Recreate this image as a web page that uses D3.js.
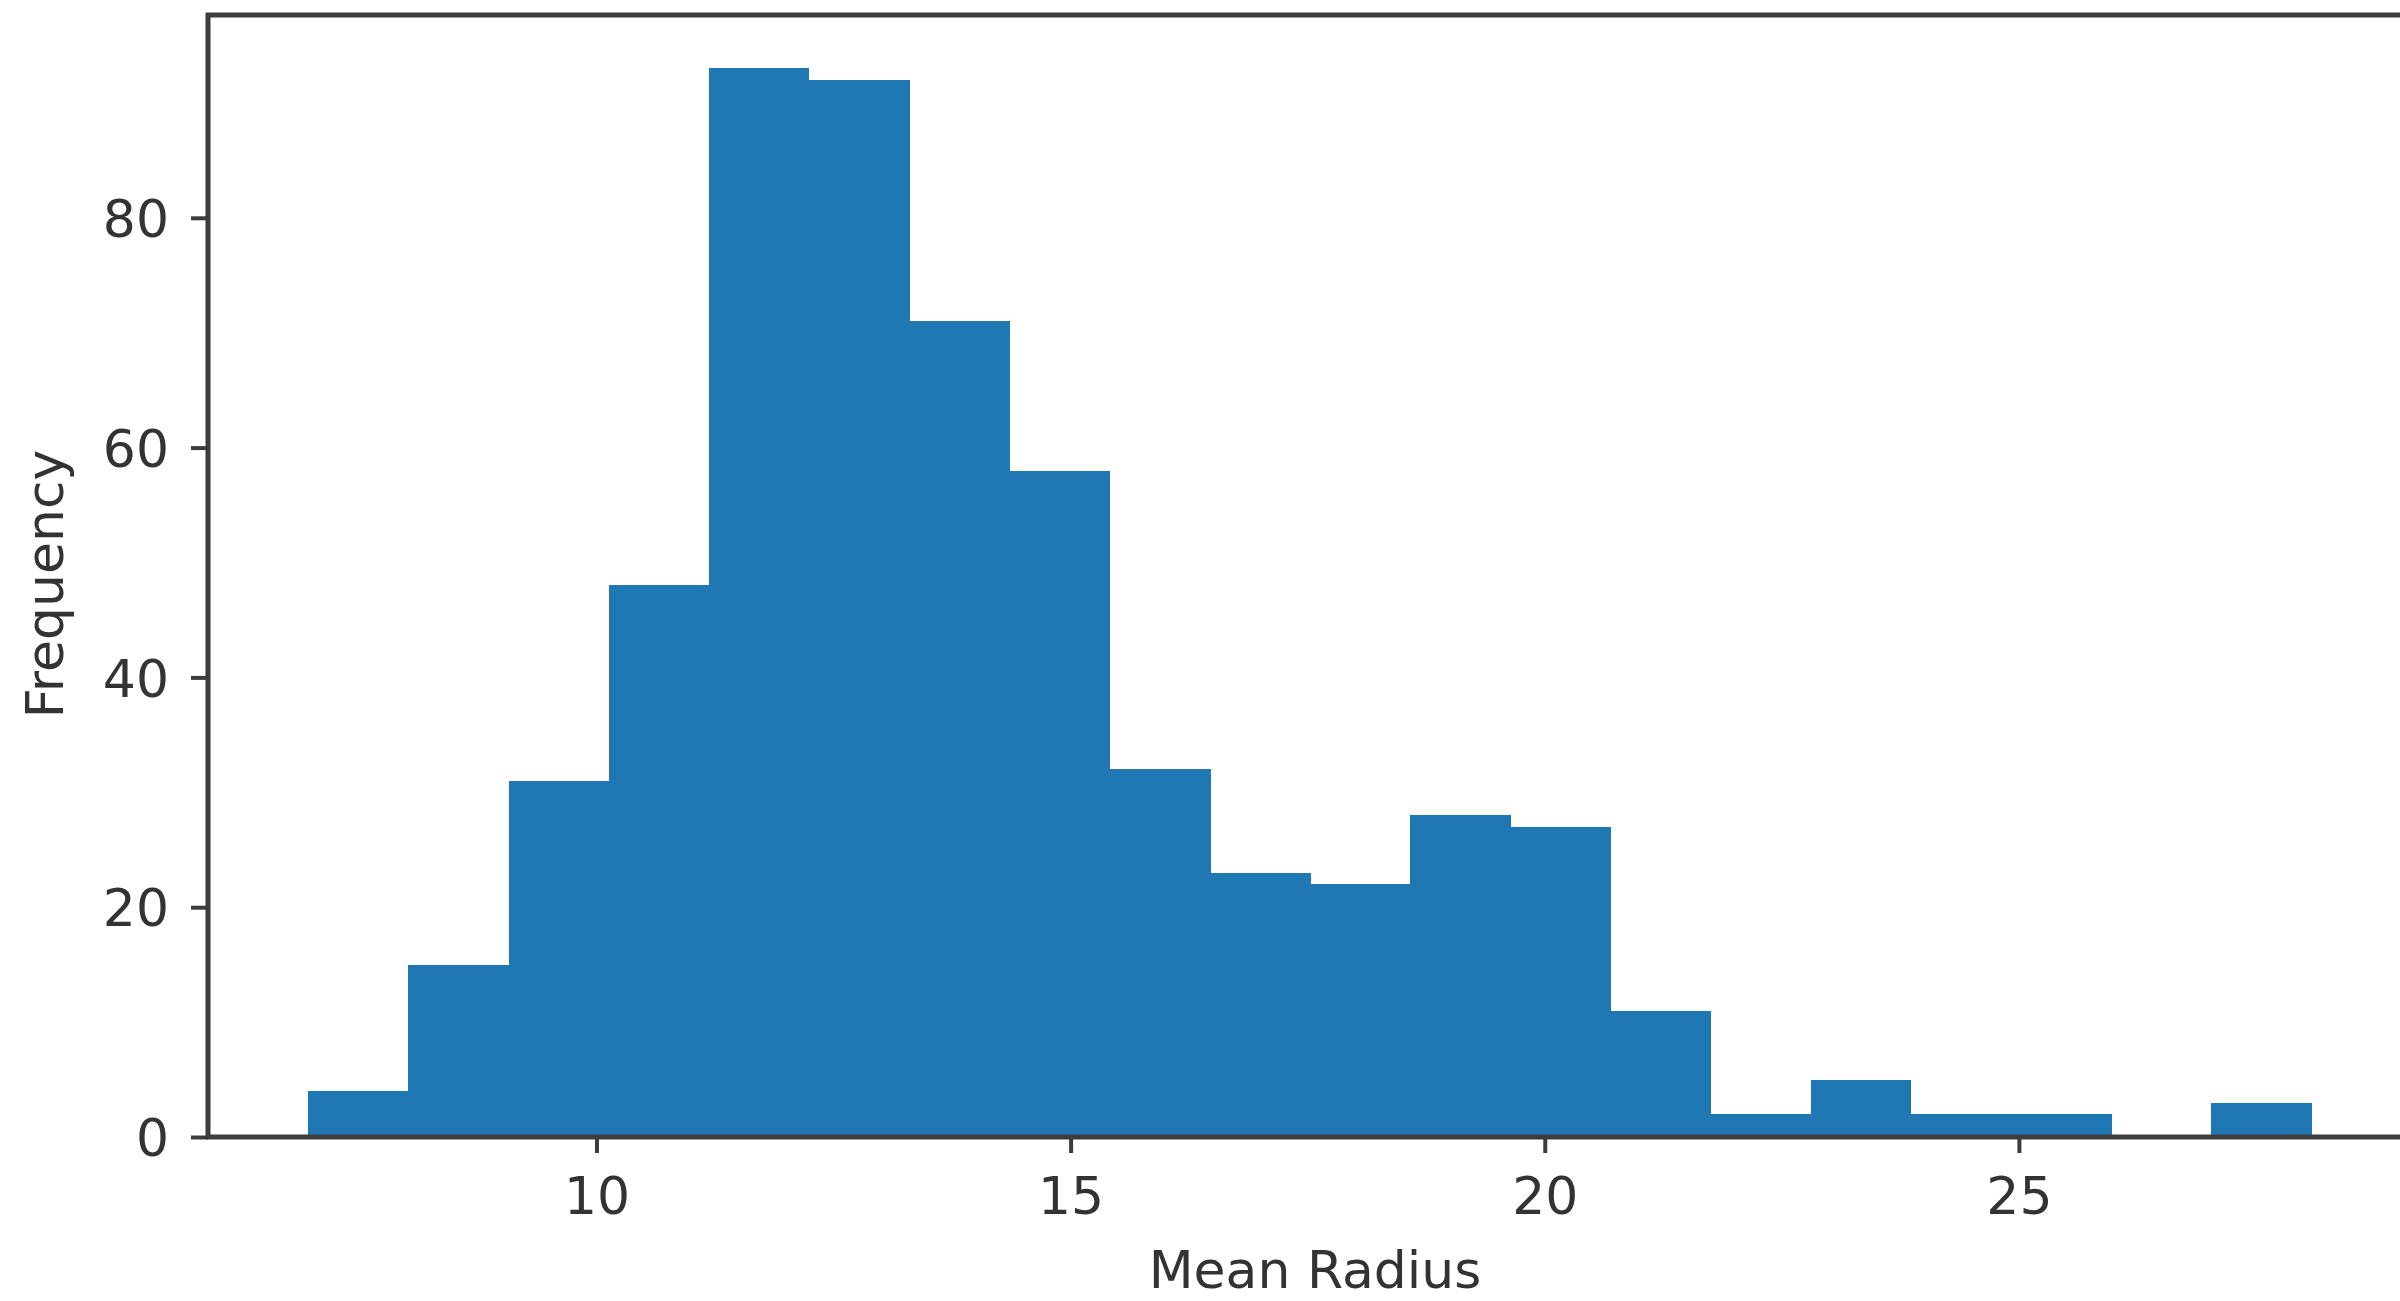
<!DOCTYPE html>
<html>
<head>
<meta charset="utf-8">
<script src="https://cdn.jsdelivr.net/npm/d3@7"></script>
<style>
  html, body { margin: 0; padding: 0; background: #ffffff; overflow: hidden; }
  svg { display: block; }
  text { font-family: "DejaVu Sans", sans-serif; fill: #333333; }
</style>
</head>
<body>
<svg id="chart" width="2400" height="1301"></svg>
<script>
// ---- data ----
const binEdges = [6.981, 8.037, 9.094, 10.15, 11.21, 12.26, 13.32, 14.38, 15.43, 16.49,
                  17.55, 18.60, 19.66, 20.71, 21.77, 22.83, 23.88, 24.94, 26.00, 27.05, 28.11];
const counts   = [4, 15, 31, 48, 93, 92, 71, 58, 32, 23, 22, 28, 27, 11, 2, 5, 2, 2, 0, 3];
const xTicks   = [10, 15, 20, 25];
const yTicks   = [0, 20, 40, 60, 80];
const xLabel   = "Mean Radius";
const yLabel   = "Frequency";

(function () {
  const bins = counts.map((c, i) => ({ x0: binEdges[i], x1: binEdges[i + 1], count: c }));

  // ---- layout ----
  const mLeft = 208, mRight = 2412, mTop = 15, mBottom = 1137;
  const xPad = 0.05 * (binEdges[binEdges.length - 1] - binEdges[0]);
  const x = d3.scaleLinear()
    .domain([binEdges[0] - xPad, binEdges[binEdges.length - 1] + xPad])
    .range([mLeft, mRight]);
  const y = d3.scaleLinear()
    .domain([0, d3.max(counts) * 1.05])
    .range([mBottom, mTop]);

  const svg = d3.select("#chart");
  const barColor = "#1f77b4";
  const spineColor = "#3c3c3c";

  // bars
  svg.append("g")
    .attr("shape-rendering", "crispEdges")
    .selectAll("rect")
    .data(bins)
    .join("rect")
    .attr("x", d => x(d.x0))
    .attr("width", d => Math.max(0, x(d.x1) - x(d.x0) + 0.6))
    .attr("y", d => y(d.count))
    .attr("height", d => y(0) - y(d.count))
    .attr("fill", barColor);

  // axes
  const xAxis = d3.axisBottom(x).tickValues(xTicks).tickSize(16).tickPadding(24).tickFormat(d3.format("d"));
  const yAxis = d3.axisLeft(y).tickValues(yTicks).tickSize(17).tickPadding(22).tickFormat(d3.format("d"));

  const gx = svg.append("g").attr("transform", `translate(2,${mBottom})`).call(xAxis);
  const gy = svg.append("g").attr("transform", `translate(${mLeft},0)`).call(yAxis);

  [gx, gy].forEach(g => {
    g.select(".domain").remove();
    g.selectAll(".tick line").attr("stroke", spineColor).attr("stroke-width", 4);
    g.selectAll(".tick text")
      .style("font-family", "'DejaVu Sans', sans-serif")
      .style("font-size", "52px")
      .attr("fill", "#333333");
  });
  gy.selectAll(".tick text").attr("dy", "0.36em");

  // spines (left, top, bottom; right spine lies beyond the viewport)
  const spines = svg.append("g").attr("stroke", spineColor).attr("stroke-width", 5).attr("fill", "none");
  spines.append("line").attr("x1", mLeft).attr("x2", mLeft).attr("y1", mTop - 2).attr("y2", mBottom + 2);
  spines.append("line").attr("x1", mLeft - 2).attr("x2", 2400).attr("y1", mTop).attr("y2", mTop);
  spines.append("line").attr("x1", mLeft - 2).attr("x2", 2400).attr("y1", mBottom).attr("y2", mBottom);

  // axis labels
  svg.append("text")
    .attr("x", (mLeft + mRight) / 2 + 5)
    .attr("y", 1288)
    .attr("text-anchor", "middle")
    .style("font-size", "52px")
    .text(xLabel);

  svg.append("text")
    .attr("transform", `translate(63,${(mTop + mBottom) / 2 + 8}) rotate(-90)`)
    .attr("text-anchor", "middle")
    .style("font-size", "52px")
    .text(yLabel);
})();
</script>
</body>
</html>
